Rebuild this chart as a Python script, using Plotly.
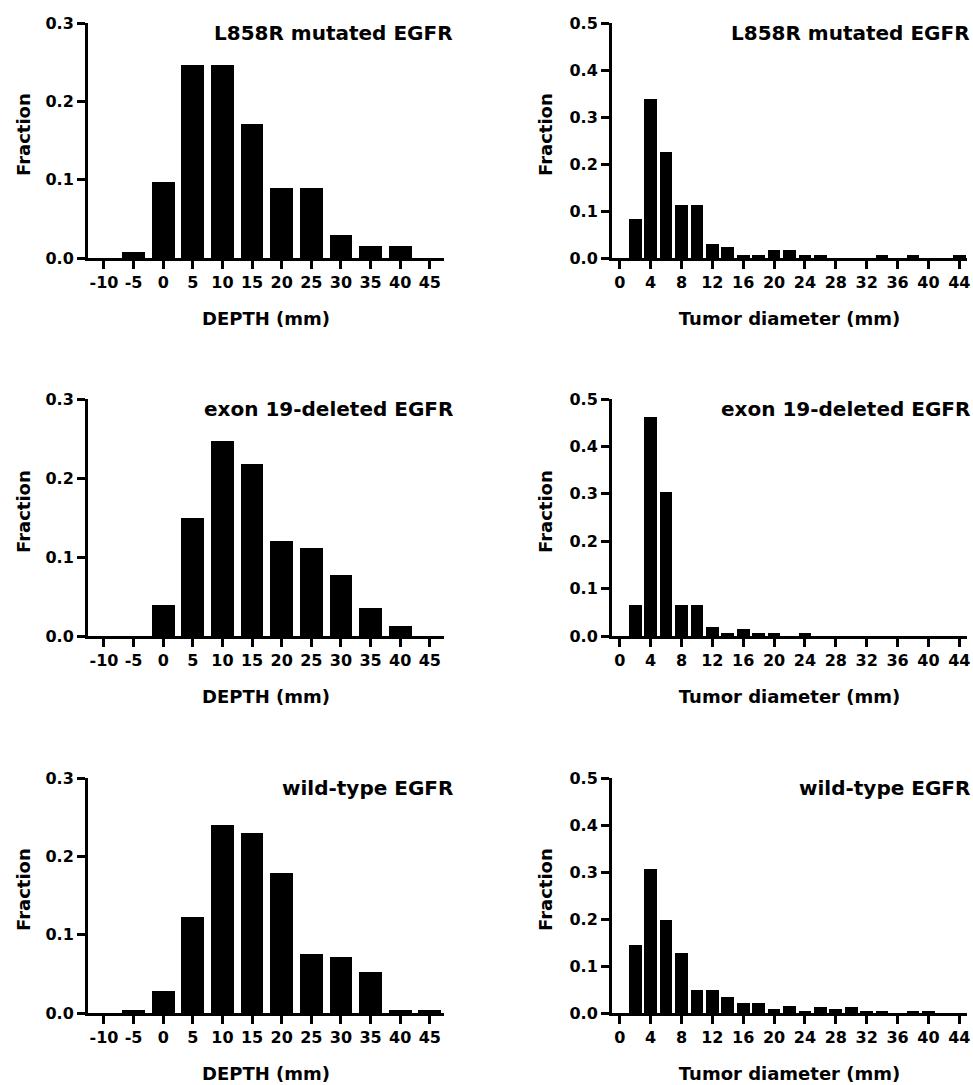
import plotly.graph_objects as go

# ---- data ----
depth_bins = [-10, -5, 0, 5, 10, 15, 20, 25, 30, 35, 40, 45]
depth_l858r = [0.0, 0.008, 0.097, 0.246, 0.246, 0.171, 0.090, 0.090, 0.030, 0.015, 0.015, 0.0]
depth_ex19 = [0.0, 0.0, 0.039, 0.150, 0.247, 0.218, 0.120, 0.112, 0.077, 0.035, 0.013, 0.0]
depth_wt = [0.0, 0.004, 0.028, 0.122, 0.240, 0.230, 0.179, 0.075, 0.072, 0.052, 0.004, 0.004]

diam_bins = [2, 4, 6, 8, 10, 12, 14, 16, 18, 20, 22, 24, 26, 28, 30, 32, 34, 36, 38, 40, 42, 44]
diam_l858r = [0.084, 0.338, 0.226, 0.113, 0.113, 0.030, 0.023, 0.007, 0.007, 0.016, 0.016,
              0.007, 0.007, 0.0, 0.0, 0.0, 0.007, 0.0, 0.007, 0.0, 0.0, 0.007]
diam_ex19 = [0.065, 0.461, 0.304, 0.065, 0.065, 0.018, 0.006, 0.014, 0.006, 0.006, 0.0,
             0.006, 0.0, 0.0, 0.0, 0.0, 0.0, 0.0, 0.0, 0.0, 0.0, 0.0]
diam_wt = [0.144, 0.306, 0.197, 0.127, 0.050, 0.050, 0.035, 0.022, 0.022, 0.008, 0.015,
           0.005, 0.012, 0.008, 0.012, 0.005, 0.005, 0.0, 0.005, 0.005, 0.0, 0.0]

titles = ["L858R mutated EGFR", "exon 19-deleted EGFR", "wild-type EGFR"]
depth_ticks = [-10, -5, 0, 5, 10, 15, 20, 25, 30, 35, 40, 45]
diam_ticks = [0, 4, 8, 12, 16, 20, 24, 28, 32, 36, 40, 44]
depth_yticks = [0.0, 0.1, 0.2, 0.3]
diam_yticks = [0.0, 0.1, 0.2, 0.3, 0.4, 0.5]

W, H = 973, 1085
FONT = "DejaVu Sans"

# pixel geometry
rows_px = [(23, 258), (399, 636), (778, 1013)]
left_px = (88, 444)
right_px = (612, 967)

def px_x(a, b):
    return [a / W, b / W]

def px_y(top, bottom):
    return [1 - bottom / H, 1 - top / H]

fig = go.Figure()

panels = [
    (depth_bins, depth_l858r, 0, "left"),
    (diam_bins, diam_l858r, 0, "right"),
    (depth_bins, depth_ex19, 1, "left"),
    (diam_bins, diam_ex19, 1, "right"),
    (depth_bins, depth_wt, 2, "left"),
    (diam_bins, diam_wt, 2, "right"),
]

tickfont = dict(family=FONT, size=16, color="black", weight="bold")
titlefont = dict(family=FONT, size=18, color="black", weight="bold")

for i, (xs, ys, row, side) in enumerate(panels):
    n = i + 1
    xa = "x" if n == 1 else f"x{n}"
    ya = "y" if n == 1 else f"y{n}"
    width = 3.85 if side == "left" else 1.65
    fig.add_trace(go.Bar(x=xs, y=ys, width=width, marker=dict(color="black", line=dict(width=0)),
                         xaxis=xa, yaxis=ya, showlegend=False, hoverinfo="skip"))
    top, bottom = rows_px[row]
    if side == "left":
        xdom = px_x(*left_px)
        xr = [-12.7, 47.4]
        xt = depth_ticks
        xtitle = "DEPTH (mm)"
        yr = [0, 0.3]
        yt = depth_yticks
        ytitle_x = 23
    else:
        xdom = px_x(*right_px)
        xr = [-1.0, 45.0]
        xt = diam_ticks
        xtitle = "Tumor diameter (mm)"
        yr = [0, 0.5]
        yt = diam_yticks
        ytitle_x = 545
    xkey = "xaxis" if n == 1 else f"xaxis{n}"
    ykey = "yaxis" if n == 1 else f"yaxis{n}"
    fig.update_layout(**{
        xkey: dict(domain=xdom, anchor=ya, range=xr, tickvals=xt, ticktext=[str(v) for v in xt],
                   showline=True, linecolor="black", linewidth=3, ticks="outside", ticklen=8,
                   tickwidth=3, tickcolor="black", showgrid=False, zeroline=False,
                   tickfont=tickfont, layer="below traces", automargin=False, fixedrange=True,
                   title=dict(text=xtitle, font=titlefont, standoff=22)),
        ykey: dict(domain=px_y(top, bottom), anchor=xa, range=yr, tickvals=yt,
                   ticktext=[f"{v:.1f}" for v in yt],
                   showline=True, linecolor="black", linewidth=3, ticks="outside", ticklen=8,
                   tickwidth=3, tickcolor="black", showgrid=False, zeroline=False,
                   tickfont=tickfont, layer="below traces", automargin=False, fixedrange=True),
    })
    # y-axis title
    fig.add_annotation(x=ytitle_x / W, y=1 - ((top + bottom) / 2 - 5.5) / H,
                       xref="paper", yref="paper", text="Fraction", textangle=-90,
                       showarrow=False, xanchor="center", yanchor="middle", font=titlefont)
    # panel title
    tx = 455 / W if side == "left" else 0.999
    fig.add_annotation(x=tx, y=1 - (top + 9.5) / H, xref="paper", yref="paper",
                       text=titles[row], showarrow=False, xanchor="right", yanchor="middle",
                       font=dict(family=FONT, size=20, color="black", weight="bold"))

fig.update_layout(width=W, height=H, margin=dict(l=0, r=0, t=0, b=0, autoexpand=False),
                  paper_bgcolor="white", plot_bgcolor="white", bargap=0)

fig.write_html("out.html", config={"displayModeBar": False},
               post_script="document.body.style.margin='0';document.body.style.overflow='hidden';")
